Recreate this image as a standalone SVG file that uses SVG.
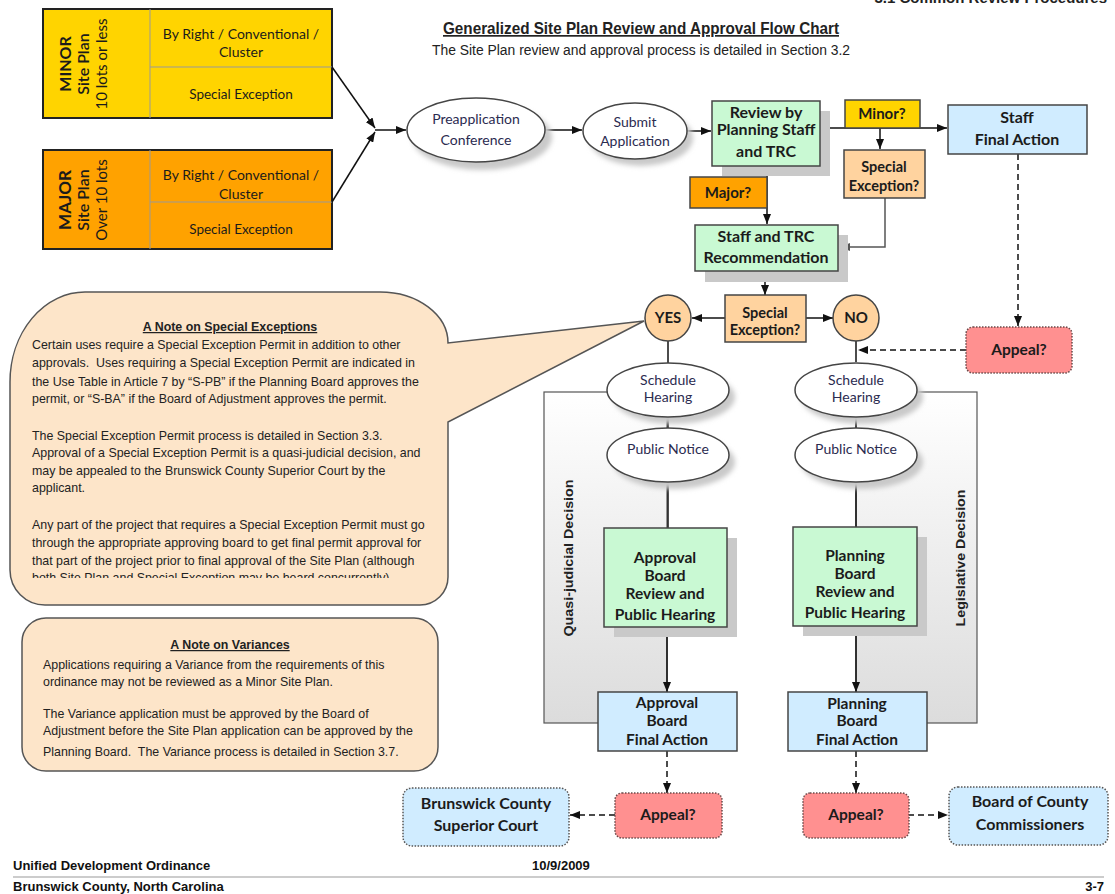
<svg xmlns="http://www.w3.org/2000/svg" width="1115" height="894" viewBox="0 0 1115 894">
<style>
.bx{stroke:#454545;stroke-width:1.5}
.yel{fill:#FFD400}
.org{fill:#FFA200}
.grn{fill:#C9F9D3}
.blu{fill:#D0ECFF}
.pch{fill:#FFD39F}
.pnk{fill:#FF9090;stroke:#6a4a4a;stroke-width:1.5;stroke-dasharray:1.5 1.5}
.bdot{fill:#D0ECFF;stroke:#555;stroke-width:1.5;stroke-dasharray:1.5 1.5}
.shd{fill:#c9c9c9}
.ell{fill:#fff;stroke:#454545;stroke-width:1.5}
.b{font-family:Lato,"DejaVu Sans",sans-serif;font-weight:bold;fill:#1b1b1b;text-anchor:middle}
.r{font-family:Lato,"DejaVu Sans",sans-serif;fill:#2b2b50;text-anchor:middle}
.n{font-family:"Liberation Sans",Arial,sans-serif;font-size:12.4px;fill:#222;white-space:pre}
.nt{font-family:"Liberation Sans",Arial,sans-serif;font-size:12.4px;font-weight:bold;fill:#222;text-anchor:middle;text-decoration:underline}
.ft{font-family:"Liberation Sans",Arial,sans-serif;font-size:13px;font-weight:bold;fill:#111}
.panel{fill:url(#pg);stroke:#555;stroke-width:1.2}
</style>
<defs>
<marker id="ah" viewBox="0 0 10 8" refX="10" refY="4" markerWidth="10" markerHeight="8" markerUnits="userSpaceOnUse" orient="auto"><path d="M0,0 L10,4 L0,8 Z" fill="#111"/></marker>
<marker id="ahg" viewBox="0 0 10 8" refX="10" refY="4" markerWidth="10" markerHeight="8" markerUnits="userSpaceOnUse" orient="auto"><path d="M0,0 L10,4 L0,8 Z" fill="#555"/></marker>
<linearGradient id="pg" x1="0" y1="0" x2="0" y2="1">
<stop offset="0" stop-color="#ffffff"/>
<stop offset="0.45" stop-color="#efefef"/>
<stop offset="1" stop-color="#dcdcdc"/>
</linearGradient>
<filter id="bl" x="-20%" y="-20%" width="140%" height="140%"><feGaussianBlur stdDeviation="2.5"/></filter>
<clipPath id="noteclip"><rect x="0" y="290" width="460" height="288"/></clipPath>
</defs>

<!-- header -->
<g id="header">
<text x="1107" y="3" font-family="Liberation Sans,Arial,sans-serif" font-size="15" font-weight="bold" fill="#222" text-anchor="end">3.1 Common Review Procedures</text>
<text x="641" y="34" font-family="Liberation Sans,Arial,sans-serif" font-size="17" font-weight="bold" fill="#222" text-anchor="middle" text-decoration="underline" textLength="396" lengthAdjust="spacingAndGlyphs">Generalized Site Plan Review and Approval Flow Chart</text>
<text x="641" y="55" font-family="Liberation Sans,Arial,sans-serif" font-size="14" fill="#222" text-anchor="middle" textLength="418" lengthAdjust="spacingAndGlyphs">The Site Plan review and approval process is detailed in Section 3.2</text>
</g>

<!-- panels -->
<g id="panel-quasi">
<rect class="panel" x="544" y="392" width="123" height="331"/>
<text transform="translate(573,558) rotate(-90)" font-family="Liberation Sans,Arial,sans-serif" font-size="13" font-weight="bold" fill="#222" text-anchor="middle" textLength="157" lengthAdjust="spacingAndGlyphs">Quasi-judicial Decision</text>
</g>
<g id="panel-legislative">
<rect class="panel" x="856" y="392" width="121" height="331"/>
<text transform="translate(965,558) rotate(-90)" font-family="Liberation Sans,Arial,sans-serif" font-size="13" font-weight="bold" fill="#222" text-anchor="middle" textLength="137" lengthAdjust="spacingAndGlyphs">Legislative Decision</text>
</g>

<!-- top left -->
<g id="minor-site-plan">
<rect class="yel" x="43" y="9" width="289" height="109" stroke="#222" stroke-width="2"/>
<line x1="150" y1="9" x2="150" y2="118" stroke="#999" stroke-width="1"/>
<line x1="150" y1="67" x2="332" y2="67" stroke="#999" stroke-width="1"/>
<text class="b" font-size="16" transform="translate(71,64) rotate(-90)">MINOR</text>
<text class="b" font-size="16" transform="translate(89,64) rotate(-90)" style="font-weight:600">Site Plan</text>
<text class="r" font-size="15" style="fill:#1b1b1b" transform="translate(107,64) rotate(-90)">10 lots or less</text>
<text class="r" font-size="14" style="fill:#1b1b1b" x="241" y="39">By Right / Conventional /</text>
<text class="r" font-size="14" style="fill:#1b1b1b" x="241" y="57">Cluster</text>
<text class="r" font-size="13.5" style="fill:#1b1b1b" x="241" y="99">Special Exception</text>
</g>
<g id="major-site-plan">
<rect class="org" x="43" y="150" width="289" height="99" stroke="#222" stroke-width="2"/>
<line x1="150" y1="150" x2="150" y2="249" stroke="#999" stroke-width="1"/>
<line x1="150" y1="202" x2="332" y2="202" stroke="#999" stroke-width="1"/>
<text class="b" font-size="17" transform="translate(71,200) rotate(-90)">MAJOR</text>
<text class="b" font-size="16" transform="translate(89,200) rotate(-90)" style="font-weight:600">Site Plan</text>
<text class="r" font-size="15" style="fill:#1b1b1b" transform="translate(107,200) rotate(-90)">Over 10 lots</text>
<text class="r" font-size="14" style="fill:#1b1b1b" x="241" y="180">By Right / Conventional /</text>
<text class="r" font-size="14" style="fill:#1b1b1b" x="241" y="199">Cluster</text>
<text class="r" font-size="13.5" style="fill:#1b1b1b" x="241" y="234">Special Exception</text>
</g>

<!-- notes -->
<g id="note-special-exceptions">
<path d="M85,292 H380 A68,51 0 0 1 448,343 L644,321 L448,422 V577 A28,28 0 0 1 420,605 H45 A35,35 0 0 1 10,570 V382 A75,90 0 0 1 85,292 Z" fill="#FDE5C9" stroke="#555" stroke-width="1.5"/>
<text class="nt" x="230" y="331">A Note on Special Exceptions</text>
<g clip-path="url(#noteclip)">
<text class="n" x="32" y="349">Certain uses require a Special Exception Permit in addition to other</text>
<text class="n" x="32" y="367">approvals.  Uses requiring a Special Exception Permit are indicated in</text>
<text class="n" x="32" y="386">the Use Table in Article 7 by “S-PB” if the Planning Board approves the</text>
<text class="n" x="32" y="403">permit, or “S-BA” if the Board of Adjustment approves the permit.</text>
<text class="n" x="32" y="440">The Special Exception Permit process is detailed in Section 3.3.</text>
<text class="n" x="32" y="457">Approval of a Special Exception Permit is a quasi-judicial decision, and</text>
<text class="n" x="32" y="475">may be appealed to the Brunswick County Superior Court by the</text>
<text class="n" x="32" y="492">applicant.</text>
<text class="n" x="32" y="529">Any part of the project that requires a Special Exception Permit must go</text>
<text class="n" x="32" y="547">through the appropriate approving board to get final permit approval for</text>
<text class="n" x="32" y="565">that part of the project prior to final approval of the Site Plan (although</text>
<text class="n" x="32" y="582">both Site Plan and Special Exception may be heard concurrently).</text>
</g>
</g>
<g id="note-variances">
<rect x="22" y="618" width="416" height="153" rx="24" fill="#FDE5C9" stroke="#555" stroke-width="1.5"/>
<text class="nt" x="230" y="649">A Note on Variances</text>
<text class="n" x="43" y="669">Applications requiring a Variance from the requirements of this</text>
<text class="n" x="43" y="686">ordinance may not be reviewed as a Minor Site Plan.</text>
<text class="n" x="43" y="718">The Variance application must be approved by the Board of</text>
<text class="n" x="43" y="735">Adjustment before the Site Plan application can be approved by the</text>
<text class="n" x="43" y="756">Planning Board.  The Variance process is detailed in Section 3.7.</text>
</g>

<!-- connectors -->
<g id="connectors" fill="none" stroke="#111" stroke-width="1.5">
<path d="M332,67 L375,128" marker-end="url(#ah)"/>
<path d="M332,202 L375,132" marker-end="url(#ah)"/>
<path d="M375,130 H406" marker-end="url(#ah)"/>
<path d="M546,130 H582" marker-end="url(#ah)"/>
<path d="M687,131 H711" marker-end="url(#ah)"/>
<path d="M820,128 H947" marker-end="url(#ah)"/>
<path d="M880,128 V149" marker-end="url(#ah)"/>
<path d="M885,198 V247 H840" stroke="#555" marker-end="url(#ahg)"/>
<path d="M767,166 V224" marker-end="url(#ah)"/>
<path d="M765,270 V295" marker-end="url(#ah)"/>
<path d="M725,318 H692" marker-end="url(#ah)"/>
<path d="M806,318 H833" marker-end="url(#ah)"/>
<path d="M1018,154 V326" stroke-dasharray="6 4" marker-end="url(#ah)"/>
<path d="M966,350 H858" stroke-dasharray="6 4" marker-end="url(#ah)"/>
<path d="M668,341 V363"/>
<path d="M856,341 V362"/>
<path d="M668,417 V428"/>
<path d="M856,418 V428"/>
<path d="M668,483 V528"/>
<path d="M856,483 V527"/>
<path d="M667,627 V692" marker-end="url(#ah)"/>
<path d="M856,626 V692" marker-end="url(#ah)"/>
<path d="M667,751 V793" stroke-dasharray="6 4" marker-end="url(#ah)"/>
<path d="M856,751 V793" stroke-dasharray="6 4" marker-end="url(#ah)"/>
<path d="M615,815 H570" stroke-dasharray="6 4" marker-end="url(#ah)"/>
<path d="M908,815 H948" stroke-dasharray="6 4" marker-end="url(#ah)"/>
</g>

<!-- top flow nodes -->
<g id="preapplication">
<ellipse class="shd" cx="482" cy="137" rx="70" ry="33" filter="url(#bl)"/>
<ellipse class="ell" cx="476" cy="130" rx="69" ry="32"/>
<text class="r" font-size="14" x="476" y="124">Preapplication</text>
<text class="r" font-size="14" x="476" y="145">Conference</text>
</g>
<g id="submit-application">
<ellipse class="shd" cx="641" cy="138" rx="52" ry="28" filter="url(#bl)"/>
<ellipse class="ell" cx="635" cy="131" rx="52" ry="28"/>
<text class="r" font-size="14" x="635" y="127">Submit</text>
<text class="r" font-size="14" x="635" y="146">Application</text>
</g>
<g id="review-planning-staff">
<rect class="shd" x="722" y="111" width="108" height="65"/>
<rect class="bx grn" x="712" y="101" width="108" height="65"/>
<text class="b" font-size="16" x="766" y="118">Review by</text>
<text class="b" font-size="16" x="766" y="135">Planning Staff</text>
<text class="b" font-size="16" x="766" y="157">and TRC</text>
</g>
<g id="minor-q">
<rect class="bx yel" x="845" y="100" width="75" height="28"/>
<text class="b" font-size="15" x="882" y="119">Minor?</text>
</g>
<g id="staff-final-action">
<rect class="bx blu" x="948" y="105" width="139" height="49"/>
<text class="b" font-size="16" x="1017" y="123">Staff</text>
<text class="b" font-size="16" x="1017" y="145">Final Action</text>
</g>
<g id="special-exception-1">
<rect class="bx pch" x="844" y="150" width="81" height="48"/>
<text class="b" font-size="14.5" x="884" y="172">Special</text>
<text class="b" font-size="14.5" x="884" y="191">Exception?</text>
</g>
<g id="major-q">
<rect class="bx org" x="690" y="177" width="77" height="31"/>
<text class="b" font-size="15" x="728" y="198">Major?</text>
</g>
<g id="staff-trc-recommendation">
<rect class="shd" x="705" y="235" width="143" height="47"/>
<rect class="bx grn" x="695" y="225" width="143" height="46"/>
<text class="b" font-size="16" x="766" y="242">Staff and TRC</text>
<text class="b" font-size="16" x="766" y="263">Recommendation</text>
</g>
<g id="special-exception-2">
<rect class="bx pch" x="725" y="295" width="81" height="47"/>
<text class="b" font-size="14.5" x="765" y="318">Special</text>
<text class="b" font-size="14.5" x="765" y="335">Exception?</text>
</g>
<g id="yes">
<circle class="bx pch" cx="668" cy="318" r="23"/>
<text class="b" font-size="15" x="668" y="323">YES</text>
</g>
<g id="no">
<circle class="bx pch" cx="856" cy="318" r="23"/>
<text class="b" font-size="15" x="856" y="323">NO</text>
</g>
<g id="appeal-staff">
<rect class="pnk" x="966" y="327" width="106" height="46" rx="7"/>
<text class="b" font-size="15.5" x="1019" y="355">Appeal?</text>
</g>

<!-- left column -->
<g id="schedule-hearing-left">
<ellipse class="shd" cx="674" cy="397" rx="61" ry="27" filter="url(#bl)"/>
<ellipse class="ell" cx="668" cy="390" rx="61" ry="27"/>
<text class="r" font-size="14" x="668" y="385">Schedule</text>
<text class="r" font-size="14" x="668" y="402">Hearing</text>
</g>
<g id="public-notice-left">
<ellipse class="shd" cx="674" cy="462" rx="61" ry="27" filter="url(#bl)"/>
<ellipse class="ell" cx="668" cy="455" rx="61" ry="27"/>
<text class="r" font-size="14" x="668" y="454">Public Notice</text>
</g>
<g id="approval-board-review">
<rect class="shd" x="614" y="538" width="123" height="99"/>
<rect class="bx grn" x="604" y="528" width="123" height="99"/>
<text class="b" font-size="15.5" x="665" y="563">Approval</text>
<text class="b" font-size="15.5" x="665" y="581">Board</text>
<text class="b" font-size="15.5" x="665" y="599">Review and</text>
<text class="b" font-size="15.5" x="665" y="620">Public Hearing</text>
</g>
<g id="approval-board-final">
<rect class="bx blu" x="598" y="692" width="139" height="59"/>
<text class="b" font-size="15.5" x="667" y="708">Approval</text>
<text class="b" font-size="15.5" x="667" y="726">Board</text>
<text class="b" font-size="15.5" x="667" y="745">Final Action</text>
</g>

<!-- right column -->
<g id="schedule-hearing-right">
<ellipse class="shd" cx="862" cy="397" rx="61" ry="27" filter="url(#bl)"/>
<ellipse class="ell" cx="856" cy="390" rx="61" ry="27"/>
<text class="r" font-size="14" x="856" y="385">Schedule</text>
<text class="r" font-size="14" x="856" y="402">Hearing</text>
</g>
<g id="public-notice-right">
<ellipse class="shd" cx="862" cy="462" rx="61" ry="27" filter="url(#bl)"/>
<ellipse class="ell" cx="856" cy="455" rx="61" ry="27"/>
<text class="r" font-size="14" x="856" y="454">Public Notice</text>
</g>
<g id="planning-board-review">
<rect class="shd" x="803" y="537" width="124" height="99"/>
<rect class="bx grn" x="793" y="527" width="124" height="99"/>
<text class="b" font-size="15.5" x="855" y="561">Planning</text>
<text class="b" font-size="15.5" x="855" y="579">Board</text>
<text class="b" font-size="15.5" x="855" y="597">Review and</text>
<text class="b" font-size="15.5" x="855" y="618">Public Hearing</text>
</g>
<g id="planning-board-final">
<rect class="bx blu" x="788" y="692" width="139" height="59"/>
<text class="b" font-size="15.5" x="857" y="709">Planning</text>
<text class="b" font-size="15.5" x="857" y="726">Board</text>
<text class="b" font-size="15.5" x="857" y="745">Final Action</text>
</g>

<!-- bottom row -->
<g id="superior-court">
<rect class="bdot" x="403" y="788" width="166" height="58" rx="9"/>
<text class="b" font-size="16" x="486" y="809">Brunswick County</text>
<text class="b" font-size="16" x="486" y="831">Superior Court</text>
</g>
<g id="appeal-left">
<rect class="pnk" x="615" y="793" width="107" height="45" rx="7"/>
<text class="b" font-size="15.5" x="668" y="820">Appeal?</text>
</g>
<g id="appeal-right">
<rect class="pnk" x="803" y="793" width="106" height="45" rx="7"/>
<text class="b" font-size="15.5" x="856" y="820">Appeal?</text>
</g>
<g id="board-commissioners">
<rect class="bdot" x="949" y="787" width="159" height="58" rx="9"/>
<text class="b" font-size="16" x="1030" y="807">Board of County</text>
<text class="b" font-size="16" x="1030" y="830">Commissioners</text>
</g>

<!-- footer -->
<g id="footer">
<text class="ft" x="13" y="870">Unified Development Ordinance</text>
<text class="ft" x="532" y="870">10/9/2009</text>
<line x1="13" y1="877" x2="1104" y2="877" stroke="#999" stroke-width="1.2"/>
<text class="ft" x="13" y="891">Brunswick County, North Carolina</text>
<text class="ft" x="1104" y="891" text-anchor="end">3-7</text>
</g>
</svg>
